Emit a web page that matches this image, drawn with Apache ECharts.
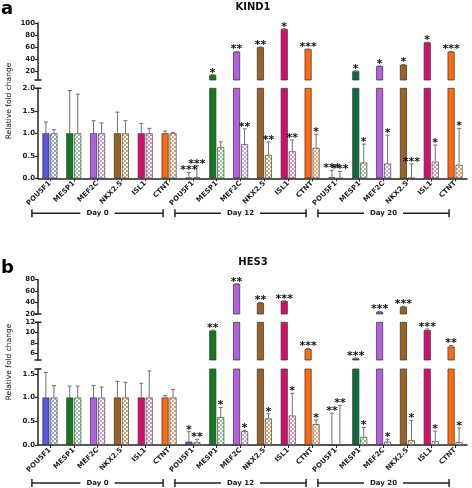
<!DOCTYPE html>
<html><head><meta charset="utf-8">
<script src="https://cdn.jsdelivr.net/npm/echarts@6/dist/echarts.min.js"></script>
<style>html,body{margin:0;padding:0;background:#fff}#c{width:472px;height:488px}</style>
</head><body><div id="c"></div><script>
// ---------- data ----------
const genes = ['POU5F1', 'MESP1', 'MEF2C', 'NKX2.5', 'ISL1', 'CTNT'];
const days = ['Day 0', 'Day 12', 'Day 20'];
const categories = days.flatMap(() => genes);

// Panel a: KIND1
const kind1Solid     = [1, 1, 1, 1, 1, 1,   0.01, 14.3, 52.7, 60, 90, 56.7,   0.02, 20.5, 28.8, 31, 68, 52.7];
const kind1SolidErr  = [0.25, 0.95, 0.28, 0.47, 0.22, 0.05,   0.12, 0.5, 0.5, 0.5, 0.5, 0.5,   0.16, 0.5, 0.5, 0.5, 0.5, 0.5];
const kind1SolidSig  = ['', '', '', '', '', '',   '***', '*', '**', '**', '*', '***',   '***', '*', '*', '*', '*', '***'];
const kind1Pattern    = [1, 1, 1, 1, 1, 1,   0.02, 0.69, 0.76, 0.52, 0.6, 0.68,   0.0, 0.35, 0.33, 0.01, 0.37, 0.3];
const kind1PatternErr = [0.08, 0.87, 0.23, 0.28, 0.11, 0.02,   0.26, 0.12, 0.34, 0.29, 0.25, 0.3,   0.15, 0.41, 0.63, 0.31, 0.37, 0.81];
const kind1PatternSig = ['', '', '', '', '', '',   '***', '', '**', '**', '**', '*',   '***', '*', '*', '***', '*', '*'];
const kind1UpperTicks = [20, 40, 60, 80, 100];
const kind1LowerTicks = [0, 0.5, 1.0, 1.5, 2.0];

// Panel b: HES3
const hes3Solid     = [1, 1, 1, 1, 1, 1,   0.07, 10.4, 72, 39.6, 42.6, 6.8,   0.0, 5.0, 24, 32.7, 10.5, 7.3];
const hes3SolidErr  = [0.53, 0.24, 0.25, 0.34, 0.3, 0.04,   0.21, 0.1, 0.5, 0.5, 0.5, 0.1,   0.67, 0.1, 0.5, 0.5, 0.2, 0.2];
const hes3SolidSig  = ['', '', '', '', '', '',   '*', '**', '**', '**', '***', '***',   '**', '***', '***', '***', '***', '**'];
const hes3Pattern    = [1, 1, 1, 1, 1, 1,   0.055, 0.59, 0.29, 0.56, 0.62, 0.44,   0.0, 0.17, 0.07, 0.1, 0.08, 0.06];
const hes3PatternErr = [0.25, 0.24, 0.22, 0.32, 0.56, 0.17,   0.065, 0.2, 0.02, 0.1, 0.47, 0.09,   0.83, 0.2, 0.05, 0.42, 0.21, 0.3];
const hes3PatternSig = ['', '', '', '', '', '',   '**', '*', '*', '*', '*', '*',   '**', '*', '*', '*', '*', '*'];
const hes3TopTicks = [20, 40, 60, 80];
const hes3MidTicks = [6, 8, 10, 12];
const hes3LowTicks = [0, 0.5, 1.0, 1.5];

// ---------- style ----------
const solidPalette = ['#5858e4', '#127c1c', '#b45ee0', '#9a6224', '#d4106c', '#ff6a10'];
const day20Green = '#0e6b3e';
const tintPalette = ['#8ea6d4', '#8cc894', '#caa2e6', '#d49c5c', '#e68cba', '#f3a86c'];
const FONT = 'DejaVu Sans';
const INK = '#222';
const BAR_OFF = 4;

function makePattern(tint) {
  const c = document.createElement('canvas');
  c.width = 4; c.height = 4;
  const g = c.getContext('2d');
  g.fillStyle = '#ffffff'; g.fillRect(0, 0, 4, 4);
  g.fillStyle = tint; g.fillRect(0, 0, 2, 2); g.fillRect(2, 2, 2, 2);
  return { image: c, repeat: 'repeat' };
}
const patterns = tintPalette.map(makePattern);
function solidColor(i) { return (i === 13) ? day20Green : solidPalette[i % 6]; }

const panels = [
  { segs: [
      { min: 6, max: 100, ticks: kind1UpperTicks, top: 23, height: 57, fmt: v => String(v) },
      { min: 0, max: 2, ticks: kind1LowerTicks, top: 88.3, height: 90, fmt: v => v.toFixed(1) }
    ],
    solid: kind1Solid, solidErr: kind1SolidErr, solidSig: kind1SolidSig,
    pat: kind1Pattern, patErr: kind1PatternErr, patSig: kind1PatternSig,
    title: 'KIND1', titleY: 7, letter: 'a', letterY: 9, nameY: 101, bracketDy: 35 },
  { segs: [
      { min: 20, max: 80, ticks: hes3TopTicks, top: 279.5, height: 34.5, fmt: v => String(v) },
      { min: 4.7, max: 12, ticks: hes3MidTicks, top: 322.3, height: 37.7, fmt: v => String(v) },
      { min: 0, max: 1.6, ticks: hes3LowTicks, top: 369, height: 76, fmt: v => v.toFixed(1) }
    ],
    solid: hes3Solid, solidErr: hes3SolidErr, solidSig: hes3SolidSig,
    pat: hes3Pattern, patErr: hes3PatternErr, patSig: hes3PatternSig,
    title: 'HES3', titleY: 262, letter: 'b', letterY: 268, nameY: 362, bracketDy: 38 }
];

const grids = [], xAxes = [], yAxes = [], series = [];

function errRender(offset) {
  return function (params, api) {
    const i = api.value(0), v = api.value(1), e = api.value(2);
    if (!(e > 0)) return null;
    const p0 = api.coord([i, v]);
    const p1 = api.coord([i, v + e]);
    const x = p0[0] + offset;
    return { type: 'group', children: [
      { type: 'line', shape: { x1: x, y1: p0[1], x2: x, y2: p1[1] }, style: { stroke: '#707070', lineWidth: 1 } },
      { type: 'line', shape: { x1: x - 2, y1: p1[1], x2: x + 2, y2: p1[1] }, style: { stroke: '#707070', lineWidth: 1 } }
    ] };
  };
}
function sigRender(offset, sig, seg) {
  return function (params, api) {
    const i = api.value(0), v = api.value(1), e = api.value(2) || 0;
    const s = sig[i];
    if (!s) return null;
    const top = Math.max(v + e, 0);
    if (top < seg.min || top > seg.max) return null;
    const p = api.coord([i, top]);
    return { type: 'text', x: p[0] + offset, y: p[1] - 2,
      style: { text: s, fill: '#111', font: 'bold 11px "' + FONT + '"', align: 'center', verticalAlign: 'middle' } };
  };
}

panels.forEach((P) => {
  P.segs.forEach((seg, k) => {
    const g = grids.length;
    const isLowest = k === P.segs.length - 1;
    seg.grid = g;
    grids.push({ left: 38, right: 5, top: seg.top, height: seg.height });
    xAxes.push({
      type: 'category', gridIndex: g, data: categories, show: isLowest,
      axisLine: { show: isLowest, lineStyle: { color: INK, width: 1.5 } },
      axisTick: { show: isLowest, interval: 0, alignWithLabel: true, length: 3, lineStyle: { color: INK, width: 1 } },
      axisLabel: { show: isLowest, interval: 0, rotate: 45, margin: 4, fontSize: 7, fontWeight: 'bold', fontFamily: FONT, color: INK }
    });
    yAxes.push({
      type: 'value', gridIndex: g, min: seg.min, max: seg.max,
      splitLine: { show: false },
      axisLine: { show: true, lineStyle: { color: INK, width: 1.5 } },
      axisTick: { show: true, length: 3, customValues: seg.ticks, lineStyle: { color: INK, width: 1.2 } },
      axisLabel: { customValues: seg.ticks, formatter: seg.fmt, fontSize: 7, fontWeight: 'bold', fontFamily: FONT, color: INK, margin: 3 }
    });
    const barBase = { type: 'bar', xAxisIndex: g, yAxisIndex: g, barWidth: 7, barGap: '14%', clip: true, animation: false };
    series.push(Object.assign({}, barBase, {
      data: P.solid.map((v, i) => v < seg.min ? '-' : { value: v, itemStyle: { color: solidColor(i), borderColor: '#333', borderWidth: 0.7 } })
    }));
    series.push(Object.assign({}, barBase, {
      data: P.pat.map((v, i) => v < seg.min ? '-' : { value: v, itemStyle: { color: patterns[i % 6], borderColor: '#444', borderWidth: 0.7 } })
    }));
    const solidTriples = P.solid.map((v, i) => [i, v, P.solidErr[i]]);
    const patTriples = P.pat.map((v, i) => [i, v, P.patErr[i]]);
    series.push({ type: 'custom', xAxisIndex: g, yAxisIndex: g, clip: true, animation: false, z: 3,
      renderItem: errRender(-BAR_OFF), data: solidTriples, encode: { x: 0, y: 1 } });
    series.push({ type: 'custom', xAxisIndex: g, yAxisIndex: g, clip: true, animation: false, z: 3,
      renderItem: errRender(BAR_OFF), data: patTriples, encode: { x: 0, y: 1 } });
    series.push({ type: 'custom', xAxisIndex: g, yAxisIndex: g, clip: false, animation: false, z: 4,
      renderItem: sigRender(-BAR_OFF, P.solidSig, seg), data: solidTriples, encode: { x: 0, y: 1 } });
    series.push({ type: 'custom', xAxisIndex: g, yAxisIndex: g, clip: false, animation: false, z: 4,
      renderItem: sigRender(BAR_OFF, P.patSig, seg), data: patTriples, encode: { x: 0, y: 1 } });
  });
});

const chart = echarts.init(document.getElementById('c'), null, { renderer: 'canvas' });
chart.setOption({ animation: false, backgroundColor: '#fff', grid: grids, xAxis: xAxes, yAxis: yAxes, series: series });

// ---------- annotations (titles, axis name, breaks, day brackets) ----------
const gfx = [];
panels.forEach((P) => {
  gfx.push({ type: 'text', x: 253, y: P.titleY, style: { text: P.title, font: 'bold 10px "' + FONT + '"', fill: '#111', align: 'center', verticalAlign: 'middle' } });
  gfx.push({ type: 'text', x: 1, y: P.letterY, style: { text: P.letter, font: 'bold 18px "' + FONT + '"', fill: '#000', align: 'left', verticalAlign: 'middle' } });
  gfx.push({ type: 'text', x: 9, y: P.nameY, rotation: Math.PI / 2, style: { text: 'Relative fold change', font: '7.5px "' + FONT + '"', fill: '#111', align: 'center', verticalAlign: 'middle' } });
  P.segs.forEach((seg, k) => {
    const axX = 38;
    if (k < P.segs.length - 1) {
      const yb = chart.convertToPixel({ yAxisIndex: seg.grid }, seg.min);
      gfx.push({ type: 'line', shape: { x1: axX - 3.5, y1: yb, x2: axX + 3.5, y2: yb }, style: { stroke: INK, lineWidth: 1.5 } });
    }
    if (k > 0) {
      const yt = chart.convertToPixel({ yAxisIndex: seg.grid }, seg.max);
      gfx.push({ type: 'line', shape: { x1: axX - 3.5, y1: yt, x2: axX + 3.5, y2: yt }, style: { stroke: INK, lineWidth: 1.5 } });
    }
  });
  const low = P.segs[P.segs.length - 1].grid;
  const axisY = chart.convertToPixel({ yAxisIndex: low }, 0);
  const by = axisY + P.bracketDy;
  days.forEach((d, di) => {
    const x0 = chart.convertToPixel({ xAxisIndex: low }, di * 6) - 18;
    const x1 = chart.convertToPixel({ xAxisIndex: low }, di * 6 + 5) - 6;
    gfx.push({ type: 'line', shape: { x1: x0, y1: by, x2: x1, y2: by }, style: { stroke: INK, lineWidth: 1.5 } });
    gfx.push({ type: 'line', shape: { x1: x0, y1: by - 4, x2: x0, y2: by + 4 }, style: { stroke: INK, lineWidth: 1.5 } });
    gfx.push({ type: 'line', shape: { x1: x1, y1: by - 4, x2: x1, y2: by + 4 }, style: { stroke: INK, lineWidth: 1.5 } });
    gfx.push({ type: 'text', x: (x0 + x1) / 2, y: by, z: 10, style: { text: d, font: 'bold 7px "' + FONT + '"', fill: INK, align: 'center', verticalAlign: 'middle', backgroundColor: '#fff', padding: [1, 6] } });
  });
});
chart.setOption({ graphic: gfx });
</script></body></html>
